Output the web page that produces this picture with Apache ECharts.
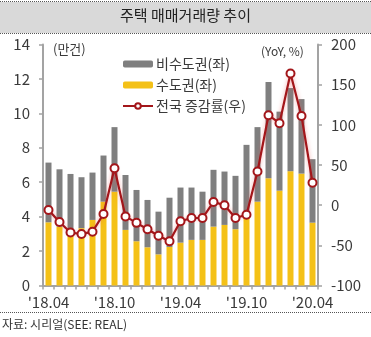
<!DOCTYPE html>
<html>
<head>
<meta charset="utf-8">
<script src="https://cdn.jsdelivr.net/npm/echarts@6/dist/echarts.min.js"></script>
<style>
  html, body { margin: 0; padding: 0; background: #fff; }
  #chart { width: 371px; height: 337px; }
</style>
</head>
<body>
<div id="chart"></div>
<script>
// Monthly housing transaction volume (10k cases) and nationwide YoY change (%)
const months = ["'18.04","'18.05","'18.06","'18.07","'18.08","'18.09","'18.10","'18.11","'18.12",
  "'19.01","'19.02","'19.03","'19.04","'19.05","'19.06","'19.07","'19.08","'19.09","'19.10",
  "'19.11","'19.12","'20.01","'20.02","'20.03","'20.04"];
const capitalArea = [3.67, 3.42, 3.13, 3.33, 3.81, 4.87, 5.45, 3.23, 2.57, 2.22, 1.81, 2.24, 2.49,
  2.65, 2.65, 3.42, 3.52, 3.27, 3.95, 4.87, 6.23, 5.51, 6.64, 6.50, 3.65];
const nonCapitalArea = [3.47, 3.33, 3.35, 2.96, 2.75, 2.68, 3.75, 3.19, 2.98, 2.75, 2.48, 2.86, 3.20,
  3.04, 2.80, 3.30, 3.10, 3.10, 4.22, 4.33, 5.59, 4.59, 4.83, 4.33, 3.69];
const nationalYoY = [-6, -21, -34, -36, -33, -11, 46, -14, -22, -30, -38, -45, -20, -16, -16, 4, 0,
  -16, -12, 42, 112, 102, 164, 111, 28];
const leftTicks = { min: 0, max: 14, interval: 2 };
const rightTicks = { min: -100, max: 200, interval: 50 };

const FONT = '"Noto Sans CJK KR", "Noto Sans", sans-serif';
const AXIS_COLOR = '#a3a3a3';
const TEXT_COLOR = '#3a3a3a';

const chart = echarts.init(document.getElementById('chart'), null, { renderer: 'canvas' });

const dotted = (y) => ({
  type: 'line',
  shape: { x1: 0, y1: y, x2: 371, y2: y },
  style: { stroke: '#555', lineWidth: 1, lineDash: [1, 1] },
  z: 10
});

chart.setOption({
  animation: false,
  textStyle: { fontFamily: FONT },
  graphic: [
    { type: 'rect', shape: { x: 0, y: 2, width: 371, height: 31 }, style: { fill: '#d9d9d9' }, z: 0 },
    dotted(1.5),
    dotted(33.5),
    dotted(312.5),
    { type: 'text', left: 'center', top: 8,
      style: { text: '주택 매매거래량 추이', font: '15px ' + FONT, fill: '#222' }, z: 11 },
    { type: 'text', left: 2, top: 318,
      style: { text: '자료: 시리얼(SEE: REAL)', font: '12px ' + FONT, fill: '#333' }, z: 11 },
    { type: 'text', left: 53, top: 43,
      style: { text: '(만건)', font: '13px ' + FONT, fill: TEXT_COLOR }, z: 11 },
    { type: 'text', left: 261, top: 45,
      style: { text: '(YoY, %)', font: '12px ' + FONT, fill: TEXT_COLOR }, z: 11 }
  ],
  legend: {
    orient: 'vertical',
    left: 117,
    top: 52,
    itemWidth: 30,
    itemHeight: 7,
    itemGap: 7,
    data: ['비수도권(좌)', '수도권(좌)', '전국 증감률(우)'],
    textStyle: { fontFamily: FONT, fontSize: 14, color: TEXT_COLOR, padding: [0, 0, 0, -2] }
  },
  grid: { left: 43, right: 53, top: 44.5, bottom: 51.5, containLabel: false },
  xAxis: {
    type: 'category',
    data: months,
    boundaryGap: true,
    axisLine: { lineStyle: { color: AXIS_COLOR, width: 2 } },
    axisTick: { show: true, length: 4, interval: 0, lineStyle: { color: AXIS_COLOR, width: 1.5 } },
    axisLabel: { interval: 5, margin: 9, fontSize: 15, color: TEXT_COLOR, fontFamily: FONT }
  },
  yAxis: [
    {
      type: 'value',
      min: leftTicks.min, max: leftTicks.max, interval: leftTicks.interval,
      splitLine: { show: false },
      axisLine: { show: true, lineStyle: { color: AXIS_COLOR, width: 2 } },
      axisTick: { show: true, length: 4, lineStyle: { color: AXIS_COLOR, width: 1.5 } },
      axisLabel: { margin: 13, fontSize: 15, color: TEXT_COLOR, fontFamily: FONT }
    },
    {
      type: 'value',
      min: rightTicks.min, max: rightTicks.max, interval: rightTicks.interval,
      splitLine: { show: false },
      axisLine: { show: true, lineStyle: { color: AXIS_COLOR, width: 2 } },
      axisTick: { show: true, length: 4, lineStyle: { color: AXIS_COLOR, width: 1.5 } },
      axisLabel: { margin: 13, fontSize: 15, color: TEXT_COLOR, fontFamily: FONT }
    }
  ],
  series: [
    {
      name: '수도권(좌)',
      type: 'bar',
      stack: 'volume',
      barWidth: 6,
      yAxisIndex: 0,
      itemStyle: { color: '#f4c117' },
      data: capitalArea
    },
    {
      name: '비수도권(좌)',
      type: 'bar',
      stack: 'volume',
      barWidth: 6,
      yAxisIndex: 0,
      itemStyle: { color: '#7f7f7f' },
      data: nonCapitalArea
    },
    {
      name: '전국 증감률(우)',
      type: 'line',
      yAxisIndex: 1,
      symbol: 'circle',
      symbolSize: 8,
      showAllSymbol: true,
      lineStyle: { color: '#a3161a', width: 2.2, shadowBlur: 4, shadowColor: 'rgba(235,90,90,0.55)' },
      itemStyle: { color: '#fff', borderColor: '#a3161a', borderWidth: 2 },
      z: 5,
      data: nationalYoY
    }
  ]
});
</script>
</body>
</html>
